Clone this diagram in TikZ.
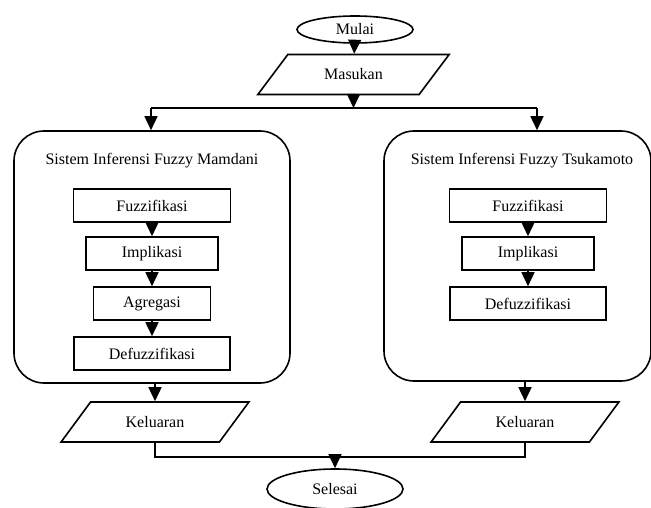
\documentclass[tikz,border=0pt]{standalone}
\usepackage{fontspec}
\setmainfont{Liberation Serif}
\usetikzlibrary{shapes.geometric, arrows.meta, positioning, calc}
\tikzset{
  %% Start / end terminal
  term/.style={
    ellipse, draw, line width=1.6pt,
    inner sep=0pt, font=\fontsize{16}{19}\selectfont
  },
  %% Input / output parallelogram
  io/.style={
    trapezium, trapezium left angle=40, trapezium right angle=140,
    trapezium stretches=true, draw, line width=1.6pt,
    inner sep=0pt, minimum height=40pt
  },
  %% Inference system container
  fis/.style={
    rectangle, rounded corners=30pt, draw,
    line width=1.6pt, inner sep=0pt
  },
  %% Process step
  proc/.style={
    rectangle, draw, line width=1.6pt,
    minimum height=33pt, inner sep=0pt
  },
  %% Arrow
  arr/.style={-{Triangle[length=14pt,width=13pt]}, line width=1.6pt},
  link/.style={line width=1.6pt},
}

\begin{document}
\begin{tikzpicture}[x=1pt, y=-1pt, every node/.style={font=\fontsize{16}{19}\selectfont}]

  \useasboundingbox (0,0) rectangle (651,508);

  %% Start and input
  \node[term, minimum width=116pt, minimum height=27pt] (mulai) at (355,29.5) {Mulai};
  \node[io, minimum width=193pt] (masukan) at (353.5,74.5) {Masukan};

  %% Containers
  \node[fis, minimum width=276pt, minimum height=252pt] (mamdani) at (152,257) {};
  \node[fis, minimum width=267pt, minimum height=250pt] (tsukamoto) at (517.5,256) {};
  \node (titleL) at (152,161) {Sistem Inferensi Fuzzy Mamdani};
  \node (titleR) at (522,161) {Sistem Inferensi Fuzzy Tsukamoto};

  %% Mamdani steps
  \node[proc, minimum width=157pt] (fuzL) at (152,205.5) {Fuzzifikasi};
  \node[proc, minimum width=132pt] (impL) at (152,253.5) {Implikasi};
  \node[proc, minimum width=117pt] (agr)  at (152,303.5) {Agregasi};
  \node[proc, minimum width=156pt] (defL) at (152,353.5) {Defuzzifikasi};

  %% Tsukamoto steps
  \node[proc, minimum width=157pt] (fuzR) at (528,205.5) {Fuzzifikasi};
  \node[proc, minimum width=132pt] (impR) at (528,253.5) {Implikasi};
  \node[proc, minimum width=156pt] (defR) at (528,303.5) {Defuzzifikasi};

  %% Outputs and end
  \node[io, minimum width=188pt] (kelL) at (155,422) {Keluaran};
  \node[io, minimum width=188pt] (kelR) at (525,422) {Keluaran};
  \node[term, minimum width=136pt, minimum height=40pt] (selesai) at (335,489) {Selesai};

  %% Split after input
  \coordinate (split) at (353.5,108);
  \coordinate (sL) at (151,108);
  \coordinate (sR) at (537,108);
  \draw[arr] (mulai) -- (masukan);
  \draw[arr] (masukan.south) -- (split);
  \draw[link] (sL) -- (sR);
  \draw[arr] (sL) -- (sL |- mamdani.north);
  \draw[arr] (sR) -- (sR |- tsukamoto.north);

  %% Inner flows
  \draw[arr] (fuzL) -- (impL);
  \draw[arr] (impL) -- (agr);
  \draw[arr] (agr) -- (defL);
  \draw[arr] (fuzR) -- (impR);
  \draw[arr] (impR) -- (defR);

  %% To outputs
  \draw[arr] (kelL.north |- mamdani.south) -- (kelL.north);
  \draw[arr] (kelR.north |- tsukamoto.south) -- (kelR.north);

  %% Merge to end
  \coordinate (join) at (335,457);
  \draw[link] (kelL.south) |- (join) -| (kelR.south);
  \draw[arr] (join) -- (selesai.north);

\end{tikzpicture}
\end{document}
